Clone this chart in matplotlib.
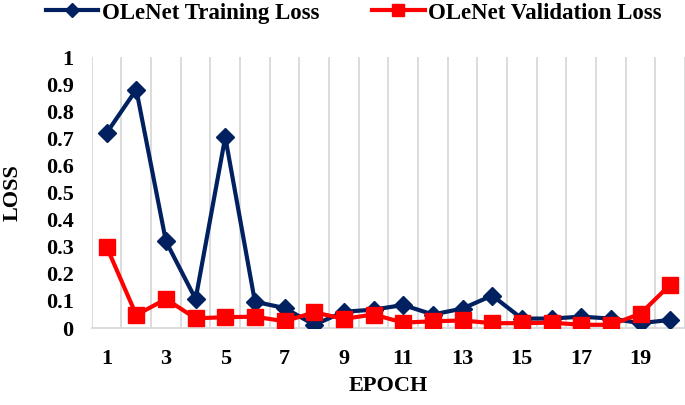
import matplotlib
matplotlib.use("Agg")
import matplotlib.pyplot as plt

epochs = list(range(1, 21))
train_loss = [0.72, 0.88, 0.32, 0.107, 0.705, 0.097, 0.074, 0.012, 0.06, 0.068,
              0.085, 0.05, 0.072, 0.12, 0.035, 0.035, 0.042, 0.035, 0.018, 0.03]
val_loss = [0.30, 0.048, 0.107, 0.036, 0.04, 0.042, 0.025, 0.058, 0.034, 0.05,
            0.02, 0.025, 0.028, 0.018, 0.018, 0.02, 0.012, 0.012, 0.053, 0.16]
xtick_labels = [1, 3, 5, 7, 9, 11, 13, 15, 17, 19]
ytick_vals = [0, 0.1, 0.2, 0.3, 0.4, 0.5, 0.6, 0.7, 0.8, 0.9, 1]
ytick_labels = ["0", "0.1", "0.2", "0.3", "0.4", "0.5", "0.6", "0.7", "0.8", "0.9", "1"]

plt.rcParams['font.family'] = ['Liberation Serif', 'DejaVu Serif']
plt.rcParams['font.weight'] = 'bold'

fig = plt.figure(figsize=(6.85, 4.05), dpi=100)
ax = fig.add_axes([0.134, 0.19, 0.866, 0.669])

navy = '#002060'
red = '#FF0000'

ax.plot(epochs, train_loss, color=navy, lw=3, marker='D', ms=9.5,
        label='OLeNet Training Loss', zorder=3)
ax.plot(epochs, val_loss, color=red, lw=3, marker='s', ms=11,
        label='OLeNet Validation Loss', zorder=3)

ax.set_xlim(0.5, 20.5)
ax.set_ylim(0, 1)
ax.set_xticks(xtick_labels)
ax.set_xticklabels([str(v) for v in xtick_labels], fontsize=16, fontweight='bold')
ax.set_yticks(ytick_vals)
ax.set_yticklabels(ytick_labels, fontsize=16, fontweight='bold')
ax.set_xticks([k + 0.5 for k in range(0, 21)], minor=True)
ax.grid(False)
ax.grid(True, which='minor', axis='x', color='#D9D9D9', lw=1.3)
ax.tick_params(which='both', length=0)
ax.tick_params(axis='x', pad=15)
ax.tick_params(axis='y', pad=13)
for s in ['top', 'right', 'left']:
    ax.spines[s].set_visible(False)
ax.spines['bottom'].set_color('#D9D9D9')
ax.spines['bottom'].set_linewidth(1.3)

ax.set_xlabel('EPOCH', fontsize=16, fontweight='bold', labelpad=5)
ax.set_ylabel('LOSS', fontsize=16, fontweight='bold', labelpad=17)

fig.legend(loc='center', bbox_to_anchor=(353.5 / 685, 1 - 13 / 405), ncol=2,
           frameon=False, prop={'weight': 'bold', 'size': 16.5},
           handlelength=2.3, columnspacing=2.3, handletextpad=0.15,
           borderaxespad=0, borderpad=0, markerscale=0.8)

fig.savefig('out.png', dpi=100)
